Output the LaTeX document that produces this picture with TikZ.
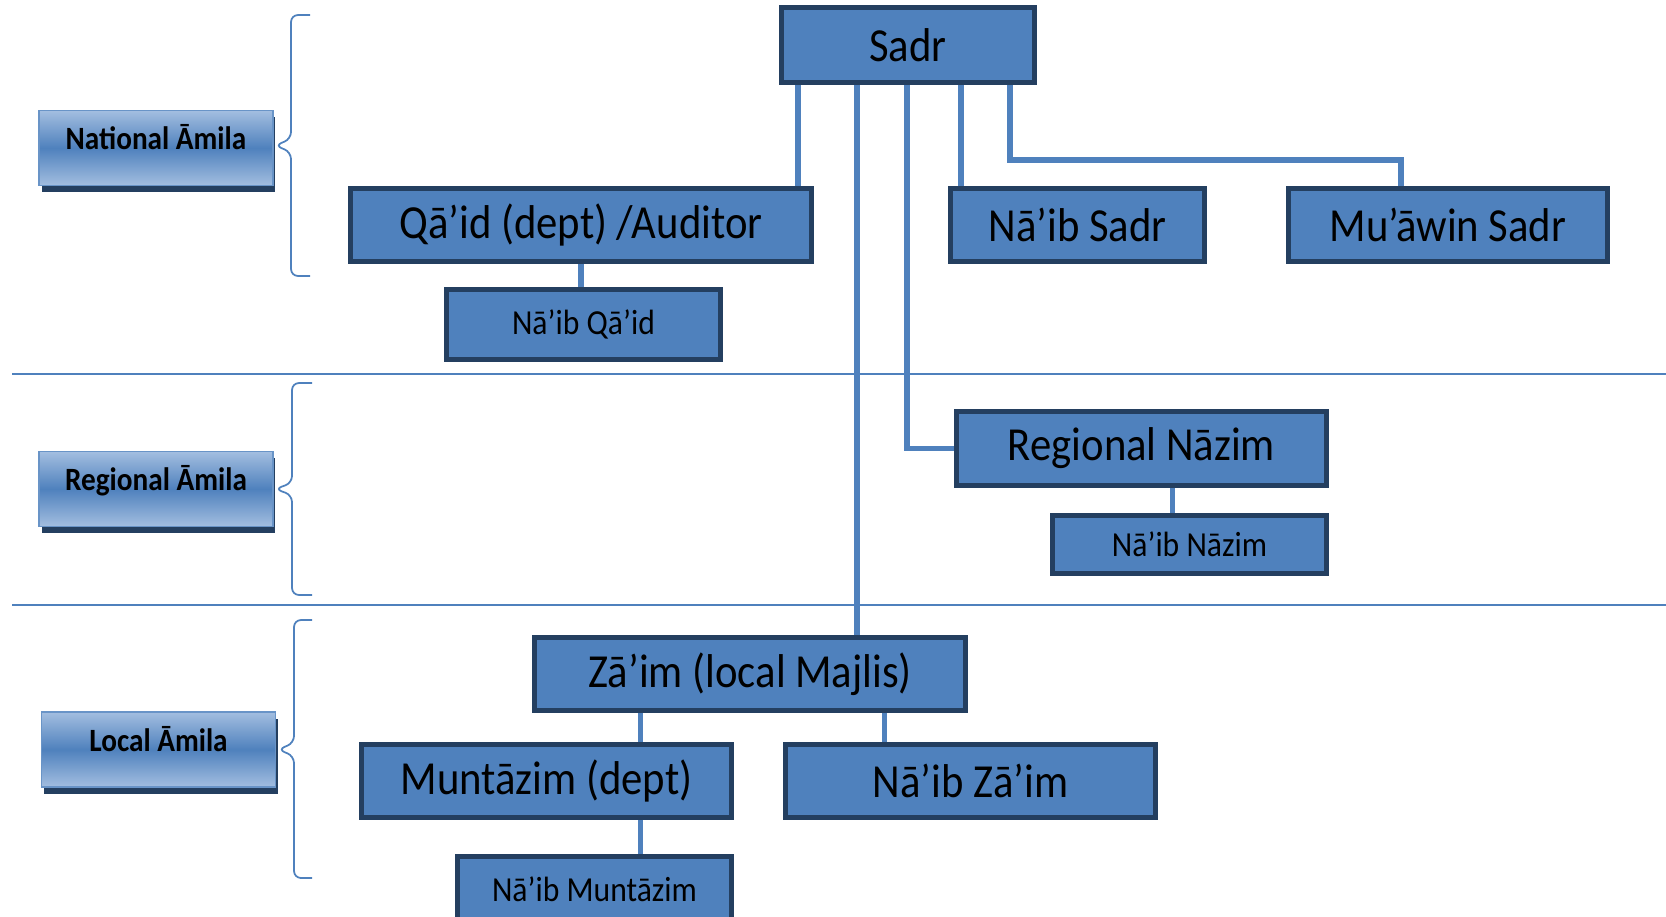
\documentclass[tikz,border=0pt]{standalone}
\usepackage{fontspec}
\setmainfont[FakeStretch=0.9]{Carlito}
\usetikzlibrary{calc,shadows}
\definecolor{boxblue}{HTML}{4F81BD}
\definecolor{boxedge}{HTML}{243F60}
\definecolor{paleblue}{HTML}{A3BEE0}

\begin{document}
\begin{tikzpicture}[x=0.02cm,y=-0.02cm]
\tikzset{post/.style={draw=boxedge, fill=boxblue, line width=2.8pt, inner sep=0pt, font=\fontsize{27}{32}\selectfont}}
\tikzset{subpost/.style={post, font=\fontsize{20}{24}\selectfont}}
\tikzset{level/.style={draw=boxblue!85!white, line width=0.8pt, top color=paleblue, bottom color=paleblue, middle color=boxblue, inner sep=0pt, minimum width=4.68cm, minimum height=1.5cm, text height=0.46cm, text depth=0.4cm, font=\fontsize{18.5}{22}\selectfont\bfseries, drop shadow={shadow xshift=0.05cm, shadow yshift=-0.13cm, fill=boxedge, opacity=1}}}
\tikzset{link/.style={draw=boxblue, line width=3pt}}
\tikzset{divider/.style={draw=boxblue, line width=1.2pt}}
\tikzset{brace/.style={draw=boxblue, line width=1pt, rounded corners=4pt}}
\useasboundingbox (0,0) rectangle (1666,916);
\clip (0,0) rectangle (1666,916);
% levels
\draw[divider] (12,374) -- (1666,374);
\draw[divider] (12,605) -- (1666,605);
\node[level] (L1) at (156,148) {National Āmila};
\node[level] (L2) at (156,489) {Regional Āmila};
\node[level] (L3) at (158.5,749.5) {Local Āmila};
\draw[brace] (310,15) -- (291,15) -- (291,139) -- (275,145.5) -- (291,152) -- (291,276) -- (310,276);
\draw[brace] (312,383) -- (292,383) -- (292,483) -- (275,489) -- (292,495) -- (292,595) -- (312,595);
\draw[brace] (312,620) -- (294,620) -- (294,743) -- (278,749.5) -- (294,756) -- (294,878) -- (312,878);
% posts
\node[post, minimum width=5.06cm, minimum height=1.5cm] (Sadr) at (908,45) {Sadr};
\node[post, minimum width=9.22cm, minimum height=1.46cm] (Qaid) at (581,225) {Qā’id (dept) /Auditor};
\node[subpost, minimum width=5.48cm, minimum height=1.4cm] (NaibQaid) at (583.5,324.5) {Nā’ib Qā’id};
\node[post, minimum width=5.08cm, minimum height=1.46cm] (NaibSadr) at (1077.5,225) {Nā’ib Sadr};
\node[post, minimum width=6.38cm, minimum height=1.46cm] (Muawin) at (1448,225) {Mu’āwin Sadr};
\node[post, minimum width=7.4cm, minimum height=1.48cm] (Nazim) at (1141.5,448.5) {Regional Nāzim};
\node[subpost, minimum width=5.48cm, minimum height=1.16cm] (NaibNazim) at (1189.5,544.5) {Nā’ib Nāzim};
\node[post, minimum width=8.62cm, minimum height=1.46cm] (Zaim) at (750,674) {Zā’im (local Majlis)};
\node[post, minimum width=7.4cm, minimum height=1.46cm] (Muntazim) at (546.5,781) {Muntāzim (dept)};
\node[post, minimum width=7.4cm, minimum height=1.46cm] (NaibZaim) at (970.5,781) {Nā’ib Zā’im};
\node[subpost, minimum width=5.48cm, minimum height=1.3cm] (NaibMuntazim) at (594.5,889) {Nā’ib Muntāzim};
% links
\coordinate (s1) at ($(Sadr.south west)!0.073!(Sadr.south east)$);
\coordinate (s2) at ($(Sadr.south west)!0.302!(Sadr.south east)$);
\coordinate (s3) at ($(Sadr.south west)!0.496!(Sadr.south east)$);
\coordinate (s4) at ($(Sadr.south west)!0.706!(Sadr.south east)$);
\coordinate (s5) at ($(Sadr.south west)!0.895!(Sadr.south east)$);
\coordinate (m1) at (1401,160);
\coordinate (n1) at ($(Nazim.south west)!0.582!(Nazim.south east)$);
\coordinate (z1) at ($(Zaim.south west)!0.249!(Zaim.south east)$);
\coordinate (z2) at ($(Zaim.south west)!0.808!(Zaim.south east)$);
\draw[link] (s1) -- (s1 |- Qaid.north);
\draw[link] (s2) -- (s2 |- Zaim.north);
\draw[link] (s3) |- (Nazim.west);
\draw[link] (s4) -- (s4 |- NaibSadr.north);
\draw[link] (s5) |- (m1) -- (m1 |- Muawin.north);
\draw[link] (Qaid.south) -- (Qaid.south |- NaibQaid.north);
\draw[link] (n1) -- (n1 |- NaibNazim.north);
\draw[link] (z1) -- (z1 |- Muntazim.north);
\draw[link] (z2) -- (z2 |- NaibZaim.north);
\draw[link] (z1 |- Muntazim.south) -- (z1 |- NaibMuntazim.north);
\end{tikzpicture}
\end{document}
